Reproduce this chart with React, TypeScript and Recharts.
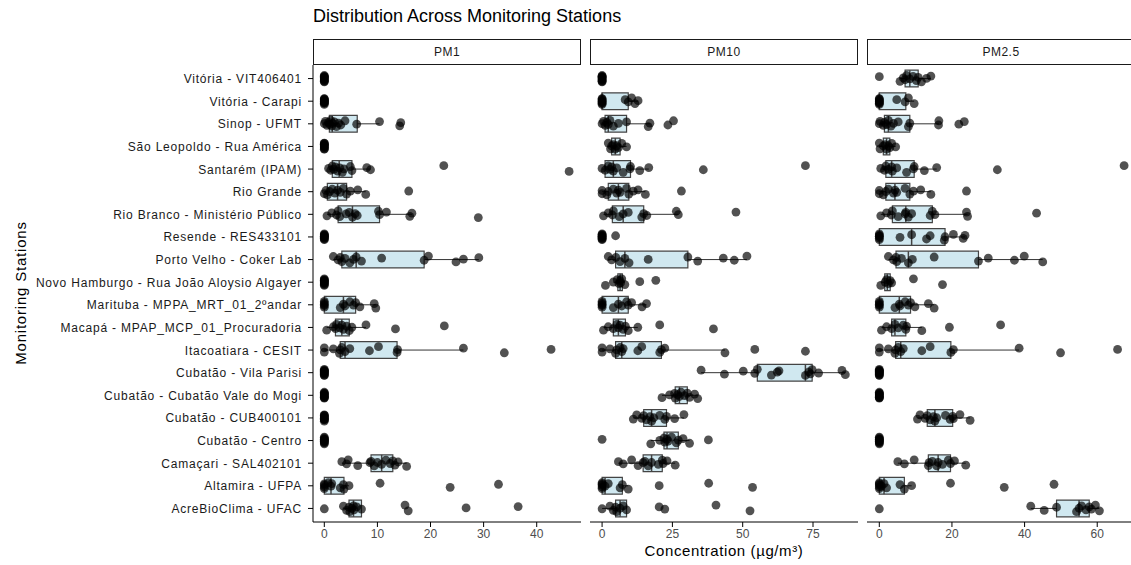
import React from 'react';
import { ComposedChart, Scatter, XAxis, YAxis, ReferenceArea, ReferenceLine } from 'recharts';

const STATIONS = [
  'Vitória - VIT406401',
  'Vitória - Carapi',
  'Sinop - UFMT',
  'São Leopoldo - Rua América',
  'Santarém (IPAM)',
  'Rio Grande',
  'Rio Branco - Ministério Público',
  'Resende - RES433101',
  'Porto Velho - Coker Lab',
  'Novo Hamburgo - Rua João Aloysio Algayer',
  'Marituba - MPPA_MRT_01_2ºandar',
  'Macapá - MPAP_MCP_01_Procuradoria',
  'Itacoatiara - CESIT',
  'Cubatão - Vila Parisi',
  'Cubatão - Cubatão Vale do Mogi',
  'Cubatão - CUB400101',
  'Cubatão - Centro',
  'Camaçari - SAL402101',
  'Altamira - UFPA',
  'AcreBioClima - UFAC',
];

// observations per station (same order as STATIONS)
const PM1_VALUES: number[][] = [
  [0, 0, 0, 0, 0, 0, 0, 0, 0, 0],
  [0, 0, 0, 0, 0, 0, 0, 0, 0, 0],
  [0, 0.2, 0.5, 0.8, 1.0, 1.2, 1.4, 1.6, 1.9, 2.3, 2.7, 3.1, 3.9, 6.1, 10.4, 14.2, 14.4],
  [0, 0, 0, 0, 0, 0, 0, 0, 0, 0],
  [0.8, 1.2, 1.5, 1.8, 2.1, 2.5, 2.9, 3.4, 3.7, 4.9, 5.2, 8.0, 8.7, 22.5, 46.1],
  [0, 0.3, 0.6, 1.0, 1.5, 2.0, 2.5, 3.0, 3.6, 4.2, 4.9, 6.3, 7.8, 15.9],
  [0.5, 1.4, 2.3, 2.6, 2.9, 4.1, 4.7, 5.3, 5.8, 6.2, 10.2, 10.4, 11.7, 16.1, 16.5, 29.0],
  [0, 0, 0, 0, 0, 0, 0, 0, 0, 0],
  [1.7, 2.6, 3.0, 3.3, 3.9, 4.8, 5.5, 6.0, 7.0, 10.8, 18.8, 19.6, 24.8, 26.2, 29.1],
  [0, 0, 0, 0, 0, 0, 0, 0, 0, 0],
  [0, 0, 0, 0, 0, 3.0, 3.6, 3.9, 4.8, 5.5, 5.9, 6.7, 9.4, 9.7],
  [0.45, 1.7, 2.1, 2.3, 2.9, 3.3, 3.6, 4.2, 4.7, 5.2, 7.85, 13.4, 22.6],
  [0, 0, 1.7, 2.85, 3.0, 3.3, 3.9, 4.8, 8.5, 10.2, 13.7, 13.8, 26.2, 33.9, 42.7],
  [0, 0, 0, 0, 0, 0, 0, 0, 0, 0],
  [0, 0, 0, 0, 0, 0, 0, 0, 0, 0],
  [0, 0, 0, 0, 0, 0, 0, 0, 0, 0],
  [0, 0, 0, 0, 0, 0, 0, 0, 0, 0],
  [3.3, 4.2, 4.5, 6.3, 8.6, 8.8, 9.4, 10.0, 10.8, 11.6, 12.4, 12.9, 13.3, 13.9, 15.5],
  [0, 0, 0, 0, 0.75, 1.26, 1.4, 3.0, 3.6, 3.7, 4.65, 10.5, 23.7, 32.8],
  [0, 3.6, 4.2, 4.65, 4.8, 5.2, 5.5, 5.6, 6.1, 7.0, 15.2, 15.8, 26.7, 36.5],
];

const PM10_VALUES: number[][] = [
  [0, 0, 0, 0, 0, 0, 0, 0, 0, 0],
  [0, 0, 0, 0, 0, 0, 0, 0, 8.2, 9.3, 10.5, 11.7, 12.8],
  [0, 0.5, 1.1, 1.7, 2.2, 2.8, 4.0, 5.8, 8.7, 16.4, 17.0, 23.4, 25.4],
  [2.2, 3.0, 3.4, 4.0, 4.6, 5.2, 5.8, 7.0, 8.7],
  [0, 1.06, 2.2, 2.8, 3.4, 4.0, 5.2, 7.5, 9.9, 10.1, 13.4, 16.6, 36.0, 72.3],
  [0, 0, 1.7, 2.2, 4.0, 5.2, 5.8, 6.4, 8.7, 9.5, 11.1, 12.8, 15.4, 28.2],
  [0.5, 2.2, 3.65, 4.0, 6.1, 7.5, 9.3, 14.1, 14.8, 15.9, 26.4, 27.1, 47.6],
  [0, 0, 0, 0, 0, 0, 0, 0, 0, 4.8],
  [2.2, 3.4, 4.9, 6.4, 8.1, 9.6, 16.4, 30.5, 34.0, 43.1, 47.0, 51.5],
  [1.2, 4.0, 5.4, 6.0, 6.4, 6.6, 7.0, 8.1, 13.4, 19.1],
  [0, 0, 0, 0, 0, 4.0, 5.8, 7.0, 8.7, 9.3, 10.5, 14.2, 15.8],
  [0.5, 2.2, 4.0, 5.2, 5.8, 6.4, 7.5, 8.3, 9.3, 12.7, 20.5, 39.6],
  [0, 0, 2.8, 4.8, 5.2, 6.4, 7.0, 7.5, 12.7, 14.1, 20.5, 21.1, 22.3, 43.7, 54.3, 72.3],
  [35.2, 43.5, 50.2, 54.3, 55.2, 60.2, 62.3, 62.9, 72.3, 73.5, 74.1, 74.7, 77.0, 85.3, 86.5],
  [21.3, 24.0, 25.8, 26.0, 26.9, 27.5, 28.1, 29.3, 30.3, 31.1, 32.9, 34.0],
  [11.1, 12.3, 14.1, 14.8, 15.8, 17.0, 17.6, 18.4, 20.5, 22.3, 22.9, 25.8, 29.1],
  [0, 17.3, 20.5, 22.0, 22.3, 23.1, 23.5, 24.7, 26.4, 27.1, 28.8, 31.1, 37.8],
  [5.8, 7.5, 10.5, 12.8, 14.6, 15.2, 16.4, 17.6, 20.0, 21.4, 21.7, 23.1, 26.0],
  [0, 0, 0, 0, 0, 1.06, 2.2, 6.4, 7.2, 9.3, 20.3, 37.9, 53.5],
  [0, 2.8, 4.0, 4.8, 5.2, 6.4, 7.5, 8.7, 20.3, 22.3, 40.5, 52.6],
];

const PM25_VALUES: number[][] = [
  [0, 5.7, 6.6, 7.1, 7.5, 8.4, 9.3, 10.2, 10.7, 11.6, 13.0, 14.2],
  [0, 0, 0, 0, 0, 0, 0, 0, 4.8, 7.1, 8.0, 9.6],
  [0, 0.2, 1.1, 1.4, 2.0, 2.5, 3.2, 3.9, 5.2, 8.0, 8.4, 16.3, 16.4, 21.9, 23.4],
  [0, 0.2, 1.1, 1.6, 2.0, 2.5, 2.9, 3.4, 4.5],
  [0.4, 1.4, 1.8, 2.5, 3.4, 3.6, 4.8, 7.5, 9.4, 9.6, 12.4, 15.8, 32.5, 67.4],
  [0, 0, 1.1, 1.8, 2.5, 3.9, 4.3, 4.8, 7.1, 8.4, 9.4, 11.4, 14.2, 24.0],
  [0.4, 2.0, 3.3, 3.6, 5.2, 7.1, 7.3, 8.0, 8.9, 14.0, 14.6, 15.3, 24.0, 24.3, 43.3],
  [0, 0, 0, 0, 0, 0, 5.7, 8.9, 13.0, 14.0, 17.9, 18.1, 20.4, 23.1, 23.6],
  [2.5, 3.9, 4.6, 4.8, 6.1, 8.0, 9.1, 15.1, 27.3, 30.0, 37.2, 39.9, 45.0],
  [0.4, 1.6, 2.0, 2.5, 3.0, 3.4, 9.4, 17.4],
  [0, 0, 0, 0, 0, 4.3, 5.5, 5.7, 7.1, 8.0, 8.6, 9.8, 13.5, 15.1],
  [0.6, 2.0, 3.4, 4.3, 5.2, 6.6, 7.3, 7.5, 11.7, 19.3, 33.4],
  [0, 0, 2.5, 4.3, 4.5, 5.2, 5.9, 6.6, 11.7, 14.0, 19.7, 20.4, 38.5, 49.9, 65.6],
  [0, 0, 0, 0, 0, 0, 0, 0, 0, 0],
  [0, 0, 0, 0, 0, 0, 0, 0, 0, 0],
  [10.5, 11.2, 12.6, 13.2, 14.0, 14.9, 15.3, 15.8, 18.2, 19.5, 20.2, 20.4, 22.2, 25.0],
  [0, 0, 0, 0, 0, 0, 0, 0, 0, 0],
  [5.1, 6.9, 9.6, 13.5, 13.7, 14.6, 15.8, 16.2, 17.4, 19.0, 19.6, 20.7, 23.8],
  [0, 0, 0, 0, 0, 0.6, 1.3, 2.0, 5.7, 6.9, 8.9, 19.6, 34.4, 48.1],
  [0, 41.7, 45.4, 48.8, 54.3, 55.0, 55.7, 56.9, 57.8, 58.4, 59.5, 60.6],
];

// boxplot statistics per station
const PM1_Q1 = [0, 0, 0.95, 0, 1.5, 0.57, 2.6, 0, 3.3, 0, 0, 2.1, 3.0, 0, 0, 0, 0, 8.8, 0, 4.65];
const PM1_MED = [0, 0, 1.5, 0, 2.8, 2.5, 5.3, 0, 6.0, 0, 3.6, 3.3, 3.9, 0, 0, 0, 0, 10.8, 1.26, 5.5];
const PM1_Q3 = [0, 0, 6.2, 0, 5.2, 4.2, 10.4, 0, 18.8, 0, 5.9, 4.7, 13.7, 0, 0, 0, 0, 12.9, 3.7, 7.0];
const PM1_LOW = [0, 0, 0, 0, 0.8, 0, 0.5, 0, 1.7, 0, 0, 0.45, 0, 0, 0, 0, 0, 3.3, 0, 3.6];
const PM1_HIGH = [0, 0, 10.4, 0, 8.7, 7.8, 16.5, 0, 29.1, 0, 9.7, 7.85, 26.2, 0, 0, 0, 0, 15.5, 4.65, 7.0];

const PM10_Q1 = [0, 0, 1.06, 3.4, 1.06, 2.2, 3.65, 0, 4.8, 5.6, 0, 4.0, 4.8, 55.2, 26.0, 14.8, 22.0, 14.6, 0, 4.8];
const PM10_MED = [0, 0, 2.2, 4.7, 4.0, 5.8, 7.5, 0, 8.1, 6.4, 5.8, 5.8, 7.0, 72.3, 27.5, 17.6, 23.1, 17.6, 1.06, 6.4];
const PM10_Q3 = [0, 9.3, 8.7, 6.4, 10.1, 9.5, 14.8, 0, 30.5, 7.2, 9.3, 8.3, 21.1, 74.7, 30.3, 22.9, 27.1, 21.4, 7.2, 8.7];
const PM10_LOW = [0, 0, 0, 2.2, 0, 0, 0.5, 0, 2.2, 4.0, 0, 0.5, 0, 35.2, 21.3, 11.1, 17.3, 5.8, 0, 0];
const PM10_HIGH = [0, 12.8, 17.0, 8.7, 16.6, 15.4, 27.1, 0, 51.5, 8.1, 15.8, 12.7, 43.7, 86.5, 34.0, 29.1, 31.1, 26.0, 9.3, 8.7];

const PM25_Q1 = [7.1, 0, 1.4, 1.1, 1.8, 1.8, 3.6, 0, 4.6, 1.5, 0, 3.4, 4.5, 0, 0, 13.2, 0, 13.5, 0, 48.8];
const PM25_MED = [8.4, 0, 2.5, 2.0, 3.4, 4.3, 7.3, 8.9, 8.0, 2.2, 5.5, 4.3, 5.9, 0, 0, 15.3, 0, 16.2, 1.3, 55.0];
const PM25_Q3 = [10.7, 7.3, 8.4, 2.9, 9.6, 8.4, 14.6, 18.1, 27.3, 3.0, 8.6, 7.3, 19.7, 0, 0, 20.2, 0, 19.6, 6.9, 57.8];
const PM25_LOW = [5.7, 0, 0, 0, 0.4, 0, 0.4, 0, 2.5, 0.4, 0, 0.6, 0, 0, 0, 10.5, 0, 5.1, 0, 41.7];
const PM25_HIGH = [14.2, 9.6, 16.4, 4.5, 15.8, 14.2, 24.3, 23.6, 45.0, 3.4, 15.1, 11.7, 38.5, 0, 0, 25.0, 0, 23.8, 8.9, 60.6];

const PM1_TICKS = [0, 10, 20, 30, 40];
const PM10_TICKS = [0, 25, 50, 75];
const PM25_TICKS = [0, 20, 40, 60];

// fixed vertical jitter pattern for the points
const JITTER = [0.55, -0.8, 0.2, -0.35, 0.9, -0.1, 0.65, -0.6, 0.35, -0.95, 0.05, 0.75, -0.45, 0.45, -0.2, 1.0, -0.7, 0.15];
const JIT = 0.15;
const BOX_HALF = 0.37;
const FONT = '"Liberation Sans", Arial, Helvetica, sans-serif';

const rowY = (i: number) => STATIONS.length - i;

const StationTick = (p: any) => (
  <text
    x={p.x}
    y={p.y}
    dy={4.5}
    textAnchor="end"
    fontSize={12}
    fontFamily={FONT}
    fill="#1a1a1a"
    style={{ letterSpacing: '0.8px' }}
  >
    {STATIONS[STATIONS.length - p.payload.value]}
  </text>
);

interface PanelProps {
  values: number[][];
  q1: number[];
  med: number[];
  q3: number[];
  low: number[];
  high: number[];
  domain: [number, number];
  ticks: number[];
  width: number;
  showY?: boolean;
}

const Panel: React.FC<PanelProps> = ({ values, q1, med, q3, low, high, domain, ticks, width, showY }) => {
  const points = values.flatMap((row, i) =>
    row.map((v, k) => ({ x: v, y: rowY(i) + JITTER[(k + i * 5) % JITTER.length] * JIT }))
  );
  const yTicks = STATIONS.map((_, i) => rowY(i));

  return (
    <ComposedChart width={width} height={565} margin={{ top: 65, right: 0, bottom: 0, left: 0 }}>
      <XAxis
        type="number"
        dataKey="x"
        domain={domain}
        ticks={ticks}
        allowDataOverflow
        height={43}
        tickSize={5}
        tickMargin={2}
        tick={{ fontSize: 12, fill: '#4d4d4d', fontFamily: FONT }}
        axisLine={{ stroke: '#000', strokeWidth: 1 }}
        tickLine={{ stroke: '#000', strokeWidth: 1 }}
      />
      <YAxis
        type="number"
        dataKey="y"
        domain={[0.4, 20.6]}
        ticks={yTicks}
        interval={0}
        allowDataOverflow
        hide={!showY}
        width={showY ? 313 : 0}
        tickSize={5}
        tickMargin={6}
        tick={<StationTick />}
        axisLine={{ stroke: '#000', strokeWidth: 1 }}
        tickLine={{ stroke: '#000', strokeWidth: 1 }}
      />
      {STATIONS.map((s, i) => {
        const y = rowY(i);
        if (q3[i] === q1[i] && high[i] === low[i]) return null;
        return (
          <React.Fragment key={s}>
            {low[i] < q1[i] && (
              <ReferenceLine segment={[{ x: low[i], y }, { x: q1[i], y }]} stroke="#333" strokeWidth={1} />
            )}
            {high[i] > q3[i] && (
              <ReferenceLine segment={[{ x: q3[i], y }, { x: high[i], y }]} stroke="#333" strokeWidth={1} />
            )}
            <ReferenceArea
              x1={q1[i]}
              x2={q3[i]}
              y1={y - BOX_HALF}
              y2={y + BOX_HALF}
              fill="#d0e8f0"
              fillOpacity={1}
              stroke="#444"
              strokeWidth={1.2}
            />
            <ReferenceLine
              segment={[{ x: med[i], y: y - BOX_HALF }, { x: med[i], y: y + BOX_HALF }]}
              stroke="#444"
              strokeWidth={1.5}
            />
          </React.Fragment>
        );
      })}
      <Scatter
        data={points}
        isAnimationActive={false}
        shape={(p: any) => <circle cx={p.cx} cy={p.cy} r={4.4} fill="#000" fillOpacity={0.68} />}
      />
    </ComposedChart>
  );
};

const stripStyle = (left: number): React.CSSProperties => ({
  position: 'absolute',
  left,
  top: 39,
  width: 268,
  height: 26,
  boxSizing: 'border-box',
  border: '1px solid #1a1a1a',
  background: '#fff',
  fontFamily: FONT,
  fontSize: 12,
  letterSpacing: '0.5px',
  color: '#1a1a1a',
  display: 'flex',
  alignItems: 'center',
  justifyContent: 'center',
});

export default function App() {
  return (
    <div
      style={{
        position: 'absolute',
        left: 0,
        top: 0,
        width: 1131,
        height: 565,
        overflow: 'hidden',
        background: '#fff',
        fontFamily: FONT,
      }}
    >
      <div style={{ position: 'absolute', left: 313, top: 6, fontSize: 18, color: '#000', whiteSpace: 'nowrap' }}>
        Distribution Across Monitoring Stations
      </div>
      <div style={stripStyle(313)}>PM1</div>
      <div style={stripStyle(590)}>PM10</div>
      <div style={stripStyle(867)}>PM2.5</div>

      <div style={{ position: 'absolute', left: 0, top: 0 }}>
        <Panel
          values={PM1_VALUES}
          q1={PM1_Q1}
          med={PM1_MED}
          q3={PM1_Q3}
          low={PM1_LOW}
          high={PM1_HIGH}
          domain={[-2.13, 48.34]}
          ticks={PM1_TICKS}
          width={581}
          showY
        />
      </div>
      <div style={{ position: 'absolute', left: 590, top: 0 }}>
        <Panel
          values={PM10_VALUES}
          q1={PM10_Q1}
          med={PM10_MED}
          q3={PM10_Q3}
          low={PM10_LOW}
          high={PM10_HIGH}
          domain={[-4.3, 91.0]}
          ticks={PM10_TICKS}
          width={268}
        />
      </div>
      <div style={{ position: 'absolute', left: 867, top: 0 }}>
        <Panel
          values={PM25_VALUES}
          q1={PM25_Q1}
          med={PM25_MED}
          q3={PM25_Q3}
          low={PM25_LOW}
          high={PM25_HIGH}
          domain={[-3.39, 70.4]}
          ticks={PM25_TICKS}
          width={268}
        />
      </div>

      <div
        style={{
          position: 'absolute',
          left: 560,
          width: 328,
          top: 542,
          textAlign: 'center',
          fontSize: 15,
          lineHeight: '17px',
          letterSpacing: '0.6px',
          color: '#000',
          whiteSpace: 'nowrap',
        }}
      >
        Concentration (µg/m³)
      </div>
      <div
        style={{
          position: 'absolute',
          left: 20,
          top: 293,
          transform: 'translate(-50%, -50%) rotate(-90deg)',
          fontSize: 15,
          letterSpacing: '0.8px',
          color: '#000',
          whiteSpace: 'nowrap',
        }}
      >
        Monitoring Stations
      </div>
    </div>
  );
}
